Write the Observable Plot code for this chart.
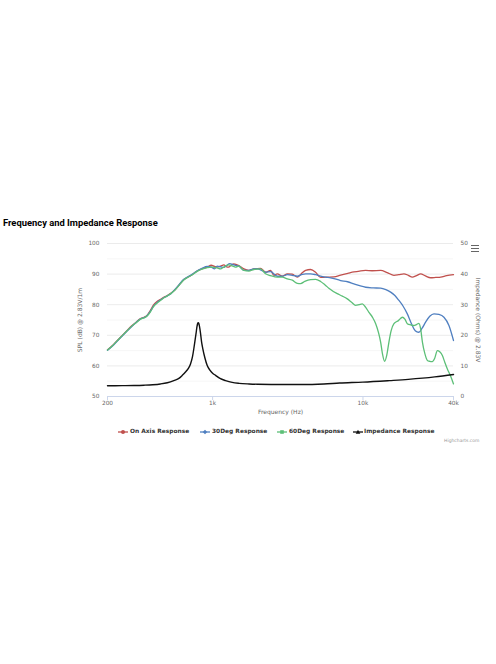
<!DOCTYPE html>
<html>
<head>
<meta charset="utf-8">
<script src="https://cdn.jsdelivr.net/npm/d3@7"></script>
<script src="https://cdn.jsdelivr.net/npm/@observablehq/plot@0.6"></script>
<style>
  html, body { margin: 0; padding: 0; background: #fff; }
  body { width: 496px; height: 664px; position: relative; overflow: hidden; font-family: "DejaVu Sans", sans-serif; }
  #title { position: absolute; left: 3px; top: 218px; font-family: Roboto, "DejaVu Sans", sans-serif; font-weight: bold; font-size: 9.4px; line-height: 10px; color: #000; white-space: nowrap; }
  #chart { position: absolute; left: 0; top: 233px; }
  .leg { position: absolute; top: 428px; height: 7px; font-size: 5.9px; font-weight: bold; color: #333; line-height: 7px; white-space: nowrap; }
  .legsym { position: absolute; top: 427.5px; line-height: 0; }
  .legsym svg { display: block; }
  #credit { position: absolute; left: 444px; top: 438px; font-size: 4.5px; color: #999; white-space: nowrap; }
  #menu { position: absolute; left: 471px; top: 245px; width: 8px; }
  #menu div { height: 1.4px; background: #666; margin-bottom: 1.4px; }
</style>
</head>
<body>
<div id="title">Frequency and Impedance Response</div>
<div id="chart"></div>
<div id="menu"><div></div><div></div><div></div></div>
<div id="legend"></div>
<div id="credit">Highcharts.com</div>
<script>
// ---- data (frequency Hz, value) ----
const xTicks = [200, 1000, 10000, 40000];
const xTickLabels = ["200", "1k", "10k", "40k"];
const splTicks = [50, 60, 70, 80, 90, 100];
const ohmTickLabels = ["0", "10", "20", "30", "40", "50"];

const onAxis = [[200,65.3],[215,66.6],[230,68.1],[250,69.9],[270,71.6],[290,73.1],[310,74.3],[330,75.4],[350,75.9],[365,76.4],[385,78.1],[405,79.9],[425,81.0],[445,81.6],[470,82.3],[500,83.0],[530,83.8],[560,84.8],[600,86.5],[640,88.1],[680,88.9],[730,89.8],[790,91.0],[850,91.7],[920,92.3],[980,92.9],[1030,92.5],[1072,92.3],[1130,92.6],[1188,93.0],[1240,92.4],[1277,92.3],[1330,92.9],[1384,93.3],[1440,93.1],[1495,92.8],[1614,91.7],[1742,91.2],[1881,91.7],[2084,91.9],[2250,90.6],[2430,91.2],[2557,89.6],[2694,90.1],[2906,89.3],[3140,90.1],[3388,90.0],[3659,89.0],[3900,90.2],[4153,91.2],[4485,91.5],[4842,90.6],[5227,88.9],[5644,89.0],[6412,89.1],[7104,89.7],[8000,90.3],[8707,90.7],[9500,91.0],[10420,91.2],[11500,91.1],[13106,91.2],[14500,90.5],[16073,89.6],[17300,89.8],[18718,90.1],[20000,89.6],[21290,89.0],[22700,89.5],[24188,90.1],[26000,89.4],[28184,88.8],[30500,88.9],[32860,89.0],[36000,89.5],[40000,89.8]];

const deg30 = [[200,65.1],[215,66.4],[230,67.9],[250,69.7],[270,71.4],[290,72.9],[310,74.2],[330,75.3],[350,75.8],[365,76.3],[385,77.8],[405,79.5],[425,80.6],[445,81.4],[470,82.2],[500,82.9],[530,83.7],[560,84.9],[600,86.6],[640,88.2],[680,89.0],[730,89.9],[790,91.1],[850,91.9],[920,92.5],[980,92.3],[1030,91.7],[1072,92.6],[1130,92.4],[1188,92.2],[1240,92.8],[1300,93.4],[1384,93.0],[1495,92.6],[1614,91.2],[1742,91.2],[1881,91.7],[2000,91.7],[2250,90.6],[2430,90.8],[2694,89.3],[2906,89.3],[3140,89.8],[3388,89.6],[3659,89.3],[3900,89.8],[4153,90.1],[4485,90.1],[4842,89.8],[5227,89.3],[5644,89.0],[6095,88.8],[7104,87.9],[7900,87.5],[8707,86.8],[9500,86.2],[10420,85.7],[11700,85.5],[13106,85.4],[14200,84.9],[15276,84.1],[16300,83.0],[17340,81.4],[18500,79.5],[19720,77.0],[20800,74.3],[21820,72.1],[22700,71.2],[23560,71.0],[24800,72.4],[26100,74.3],[27800,76.2],[29660,77.0],[32000,76.8],[34560,75.9],[37300,73.2],[40000,68.3]];

const deg60 = [[200,65.2],[215,66.5],[230,68.0],[250,69.8],[270,71.5],[290,73.0],[310,74.1],[330,75.2],[350,75.7],[365,76.2],[385,77.6],[405,79.4],[425,80.4],[445,81.2],[470,82.1],[500,82.9],[530,83.7],[560,84.7],[600,86.4],[640,88.0],[680,88.9],[730,89.7],[790,90.9],[850,91.6],[920,92.1],[980,92.3],[1030,92.2],[1072,92.0],[1130,91.7],[1188,92.3],[1280,93.0],[1350,92.7],[1420,92.3],[1495,92.6],[1614,91.2],[1742,91.0],[1881,91.5],[2084,91.7],[2250,90.1],[2430,89.5],[2694,89.0],[2906,89.0],[3140,88.4],[3388,88.0],[3659,87.0],[3849,86.9],[4100,87.6],[4485,88.2],[4842,88.3],[5227,87.6],[5644,86.3],[5930,85.4],[6745,83.6],[7300,82.8],[7867,81.9],[8400,80.8],[8940,79.8],[9400,80.0],[9900,80.3],[10400,79.2],[10960,77.5],[11600,75.8],[12150,73.8],[12700,70.8],[13106,67.8],[13500,63.8],[13930,61.5],[14400,63.5],[14880,67.8],[15400,71.5],[16073,73.8],[17200,74.8],[18290,75.9],[19000,75.3],[19720,73.8],[20800,73.4],[21820,73.2],[22700,73.5],[23560,73.9],[24200,72.0],[24850,67.8],[25800,64.0],[26810,61.8],[27800,61.5],[28920,61.4],[30000,62.5],[31240,65.0],[32400,64.6],[33730,63.4],[35000,61.2],[36410,59.0],[38200,56.8],[40000,54.1]];

// impedance in ohms (right axis 0–50)
const impedance = [[200,3.5],[250,3.55],[300,3.6],[350,3.7],[400,3.85],[450,4.1],[500,4.5],[552,5.2],[600,6.0],[628,6.9],[660,8.0],[690,9.2],[713,10.6],[735,13.0],[750,15.6],[765,18.5],[777,20.8],[787,22.8],[796,23.9],[802,24.1],[809,23.9],[818,22.9],[830,20.9],[845,17.8],[861,15.6],[890,12.5],[921,10.1],[960,8.6],[1000,7.6],[1047,6.9],[1120,5.9],[1219,5.2],[1350,4.6],[1500,4.3],[1750,4.1],[2000,4.0],[3000,3.9],[4000,3.9],[5500,4.1],[7000,4.4],[10000,4.7],[15000,5.2],[20000,5.6],[30000,6.4],[40000,7.2]];

const seriesNames = ["On Axis Response", "30Deg Response", "60Deg Response", "Impedance Response"];
const seriesColors = ["#c0504d", "#4f7fc0", "#5cbf77", "#111111"];
const minorGrid = [55, 65, 75, 85, 95];

// right axis: 0..50 ohms shares the 50..100 dB range
const ohmToY = o => 50 + o;

const chart = Plot.plot({
  width: 496,
  height: 185,
  marginLeft: 107,
  marginRight: 43,
  marginTop: 10,
  marginBottom: 22,
  style: { fontFamily: "'DejaVu Sans', sans-serif", fontSize: "5.8px", color: "#666", background: "transparent", overflow: "visible" },
  x: { type: "log", domain: [200, 40000] },
  y: { domain: [50, 100] },
  marks: [
    Plot.ruleY(minorGrid, { stroke: "#f4f4f4", strokeWidth: 0.8 }),
    Plot.ruleY(splTicks.slice(1), { stroke: "#e6e6e6", strokeWidth: 0.8 }),
    Plot.ruleY([50], { stroke: "#ccd6eb", strokeWidth: 1 }),
    Plot.axisX({ ticks: xTicks, tickFormat: d => xTickLabels[xTicks.indexOf(d)], tickSize: 4, tickPadding: 0, stroke: "#ccd6eb", label: null }),
    Plot.axisY({ ticks: splTicks, tickSize: 0, tickPadding: 8, label: null }),
    Plot.axisY({ anchor: "right", ticks: splTicks, tickFormat: d => ohmTickLabels[splTicks.indexOf(d)], tickSize: 0, tickPadding: 7, label: null }),
    Plot.text(["Frequency (Hz)"], { frameAnchor: "bottom", dy: 17, fontSize: 6, fill: "#666", textAnchor: "middle" }),
    Plot.text(["SPL (dB) @ 2.83V/1m"], { frameAnchor: "left", dx: -27, rotate: -90, fontSize: 6, fill: "#666", textAnchor: "middle" }),
    Plot.text(["Impedance (Ohms) @ 2.83V"], { frameAnchor: "right", dx: 24, rotate: 90, fontSize: 6, fill: "#666", textAnchor: "middle" }),
    Plot.line(onAxis, { x: d => d[0], y: d => d[1], stroke: seriesColors[0], strokeWidth: 1.3, curve: "monotone-x" }),
    Plot.line(deg30, { x: d => d[0], y: d => d[1], stroke: seriesColors[1], strokeWidth: 1.3, curve: "monotone-x" }),
    Plot.line(deg60, { x: d => d[0], y: d => d[1], stroke: seriesColors[2], strokeWidth: 1.3, curve: "monotone-x" }),
    Plot.line(impedance, { x: d => d[0], y: d => ohmToY(d[1]), stroke: seriesColors[3], strokeWidth: 1.4, curve: "monotone-x" })
  ]
});
document.getElementById("chart").appendChild(chart);

// legend
const legendSym = [123, 205, 282, 358];
const legendText = [130, 212, 289, 364];
const symbols = ["circle", "diamond", "square", "triangle"];
const legend = document.getElementById("legend");
seriesNames.forEach((name, i) => {
  const c = seriesColors[i];
  let shape;
  if (symbols[i] === "circle") shape = `<circle cx="6" cy="4" r="2" fill="${c}"/>`;
  else if (symbols[i] === "diamond") shape = `<path d="M6 1.8 L8.2 4 L6 6.2 L3.8 4 Z" fill="${c}"/>`;
  else if (symbols[i] === "square") shape = `<rect x="4.2" y="2.2" width="3.6" height="3.6" fill="${c}"/>`;
  else shape = `<path d="M6 1.8 L8.3 5.8 L3.7 5.8 Z" fill="${c}"/>`;
  const s = document.createElement("div");
  s.className = "legsym";
  s.style.left = (legendSym[i] - 6) + "px";
  s.innerHTML = `<svg width="12" height="8"><line x1="1" y1="4" x2="11" y2="4" stroke="${c}" stroke-width="1.3"/>${shape}</svg>`;
  legend.appendChild(s);
  const t = document.createElement("div");
  t.className = "leg";
  t.style.left = legendText[i] + "px";
  t.textContent = name;
  legend.appendChild(t);
});
</script>
</body>
</html>
